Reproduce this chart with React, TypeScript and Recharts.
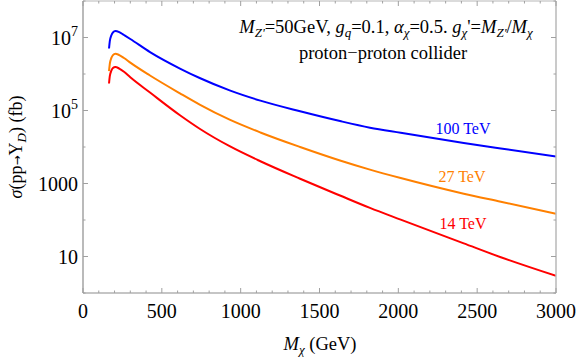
import React from 'react';
import { LineChart, Line, XAxis, YAxis, Customized } from 'recharts';

// resonance mass M_chi (GeV)
const massGeV = [165, 170, 180, 190, 205, 230, 260, 300, 425, 615, 740, 930, 1125, 1377, 1630, 1820, 2015, 2415, 2650, 3000];
// cross sections (fb)
const sigma100TeV = [5.0e6, 7.9e6, 1.15e7, 1.38e7, 1.51e7, 1.41e7, 1.17e7, 9.1e6, 3.98e6, 1.41e6, 7.76e5, 3.55e5, 1.86e5, 9.5e4, 5.13e4, 3.39e4, 2.45e4, 1.29e4, 9.1e3, 5.5e3];
const sigma27TeV = [1.2e6, 1.9e6, 2.75e6, 3.3e6, 3.6e6, 3.3e6, 2.75e6, 2.05e6, 9.1e5, 2.95e5, 1.45e5, 5.6e4, 2.5e4, 1.0e4, 4.27e3, 2.4e3, 1.41e3, 525, 316, 148];
const sigma14TeV = [5.5e5, 8.7e5, 1.23e6, 1.45e6, 1.55e6, 1.41e6, 1.15e6, 8.1e5, 3.1e5, 7.4e4, 3.16e4, 1.05e4, 4.07e3, 1.35e3, 468, 214, 102, 22.9, 9.55, 2.95];

const seriesLabels = ['100 TeV', '27 TeV', '14 TeV'];
const xTicks = [0, 100, 200, 300, 400, 500, 600, 700, 800, 900, 1000, 1100, 1200, 1300, 1400, 1500, 1600, 1700, 1800, 1900, 2000, 2100, 2200, 2300, 2400, 2500, 2600, 2700, 2800, 2900, 3000];
const xMajorTicks = [0, 500, 1000, 1500, 2000, 2500, 3000];
const yTicks = [1, 10, 100, 1000, 1e4, 1e5, 1e6, 1e7, 1e8];
const yMajorTicks = [10, 1000, 1e5, 1e7];

const data = massGeV.map((m, i) => ({
  m,
  s100: sigma100TeV[i],
  s27: sigma27TeV[i],
  s14: sigma14TeV[i],
}));

const FONT = '"Liberation Serif", serif';
const AX_DARK = '#8c8c8c';
const AX_LIGHT = '#b8b8b8';
const TICK_C = '#a0a0a0';

const BottomTick = (props: any) => {
  const { x, y, payload } = props;
  const v = payload.value;
  const major = xMajorTicks.includes(v);
  return (
    <g>
      <line x1={x} y1={y} x2={x} y2={y - (major ? 5 : 2.5)} stroke={TICK_C} strokeWidth={1} />
      {major && (
        <text x={x} y={y + 25} textAnchor="middle" fontFamily={FONT} fontSize={20} fill="#000">
          {v}
        </text>
      )}
    </g>
  );
};

const TopTick = (props: any) => {
  const { x, y, payload } = props;
  const major = xMajorTicks.includes(payload.value);
  return <line x1={x} y1={y} x2={x} y2={y + (major ? 5 : 2.5)} stroke={TICK_C} strokeWidth={1} />;
};

const yLabel = (v: number) => {
  const e = Math.round(Math.log10(v));
  if (e >= 5) return { base: '10', sup: String(e) };
  return { base: String(v), sup: '' };
};

const LeftTick = (props: any) => {
  const { x, y, payload } = props;
  const v = payload.value;
  const major = yMajorTicks.includes(v);
  const lab = yLabel(v);
  return (
    <g>
      <line x1={x} y1={y} x2={x + (major ? 5 : 2.5)} y2={y} stroke={TICK_C} strokeWidth={1} />
      {major && (
        <text x={x - 5} y={y + 7.5} textAnchor="end" fontFamily={FONT} fontSize={20} fill="#000">
          {lab.base}
          {lab.sup && (
            <tspan fontSize={14} dy={-9}>
              {lab.sup}
            </tspan>
          )}
        </text>
      )}
    </g>
  );
};

const RightTick = (props: any) => {
  const { x, y, payload } = props;
  const major = yMajorTicks.includes(payload.value);
  return <line x1={x} y1={y} x2={x - (major ? 5 : 2.5)} y2={y} stroke={TICK_C} strokeWidth={1} />;
};

const Annotations = () => (
  <g fontFamily={FONT} fill="#000">
    <text x={386} y={33} textAnchor="middle" fontSize={18.5}>
      <tspan fontStyle="italic">M</tspan>
      <tspan fontStyle="italic" fontSize={13} dy={4}>Z'</tspan>
      <tspan dy={-4}>=50GeV, </tspan>
      <tspan fontStyle="italic">g</tspan>
      <tspan fontStyle="italic" fontSize={13} dy={4}>q</tspan>
      <tspan dy={-4}>=0.1, </tspan>
      <tspan fontStyle="italic">α</tspan>
      <tspan fontStyle="italic" fontSize={13} dy={4}>χ</tspan>
      <tspan dy={-4}>=0.5. </tspan>
      <tspan fontStyle="italic">g</tspan>
      <tspan fontStyle="italic" fontSize={13} dy={4}>χ</tspan>
      <tspan dy={-4}>'=</tspan>
      <tspan fontStyle="italic">M</tspan>
      <tspan fontStyle="italic" fontSize={13} dy={4}>Z'</tspan>
      <tspan dy={-4}>/</tspan>
      <tspan fontStyle="italic">M</tspan>
      <tspan fontStyle="italic" fontSize={13} dy={4}>χ</tspan>
    </text>
    <text x={383} y={59} textAnchor="middle" fontSize={18.5}>
      proton−proton collider
    </text>
    <text x={463} y={134} textAnchor="middle" fontSize={16} fill="#0000ff">{seriesLabels[0]}</text>
    <text x={462} y={182} textAnchor="middle" fontSize={16} fill="#ff8000">{seriesLabels[1]}</text>
    <text x={463} y={229} textAnchor="middle" fontSize={16} fill="#ff0000">{seriesLabels[2]}</text>
    <text x={320} y={350} textAnchor="middle" fontSize={18.5}>
      <tspan fontStyle="italic">M</tspan>
      <tspan fontStyle="italic" fontSize={13} dy={4}>χ</tspan>
      <tspan dy={-4}> (GeV)</tspan>
    </text>
    <text x={22} y={147} textAnchor="middle" fontSize={18} transform="rotate(-90 22 147)">
      <tspan fontStyle="italic">σ</tspan>
      <tspan>(pp</tspan>
      <tspan fontSize={12} fontFamily='"DejaVu Sans", sans-serif' dy={-1}>→</tspan>
      <tspan dy={1}>Υ</tspan>
      <tspan fontStyle="italic" fontSize={13} dy={4}>D</tspan>
      <tspan dy={-4}>) (fb)</tspan>
    </text>
  </g>
);

export default function App() {
  return (
    <div style={{ position: 'absolute', left: 0, top: 0, background: '#fff' }}>
      <LineChart width={581} height={360} data={data} margin={{ top: 0, right: 24, bottom: 66, left: 82 }}>
        <XAxis
          dataKey="m"
          type="number"
          domain={[0, 3000]}
          ticks={xTicks}
          interval={0}
          height={1}
          tickSize={0}
          tickMargin={0}
          tickLine={false}
          axisLine={{ stroke: AX_DARK, strokeWidth: 1.2 }}
          tick={<BottomTick />}
          allowDataOverflow
        />
        <XAxis
          xAxisId="top"
          orientation="top"
          dataKey="m"
          type="number"
          domain={[0, 3000]}
          ticks={xTicks}
          interval={0}
          height={1}
          tickSize={0}
          tickMargin={0}
          tickLine={false}
          axisLine={{ stroke: AX_LIGHT, strokeWidth: 1.2 }}
          tick={<TopTick />}
          allowDataOverflow
        />
        <YAxis
          scale="log"
          type="number"
          domain={[1, 1e8]}
          ticks={yTicks}
          interval={0}
          width={1}
          tickSize={0}
          tickMargin={0}
          tickLine={false}
          axisLine={{ stroke: AX_DARK, strokeWidth: 1.2 }}
          tick={<LeftTick />}
          allowDataOverflow
        />
        <YAxis
          yAxisId="right"
          orientation="right"
          scale="log"
          type="number"
          domain={[1, 1e8]}
          ticks={yTicks}
          interval={0}
          width={1}
          tickSize={0}
          tickMargin={0}
          tickLine={false}
          axisLine={{ stroke: AX_LIGHT, strokeWidth: 1.5 }}
          tick={<RightTick />}
          allowDataOverflow
        />
        <Line dataKey="s100" type="monotone" stroke="#0000ff" strokeWidth={2} dot={false} isAnimationActive={false} />
        <Line dataKey="s27" type="monotone" stroke="#ff8000" strokeWidth={2} dot={false} isAnimationActive={false} />
        <Line dataKey="s14" type="monotone" stroke="#ff0000" strokeWidth={2} dot={false} isAnimationActive={false} />
        <Customized component={Annotations} />
      </LineChart>
    </div>
  );
}
